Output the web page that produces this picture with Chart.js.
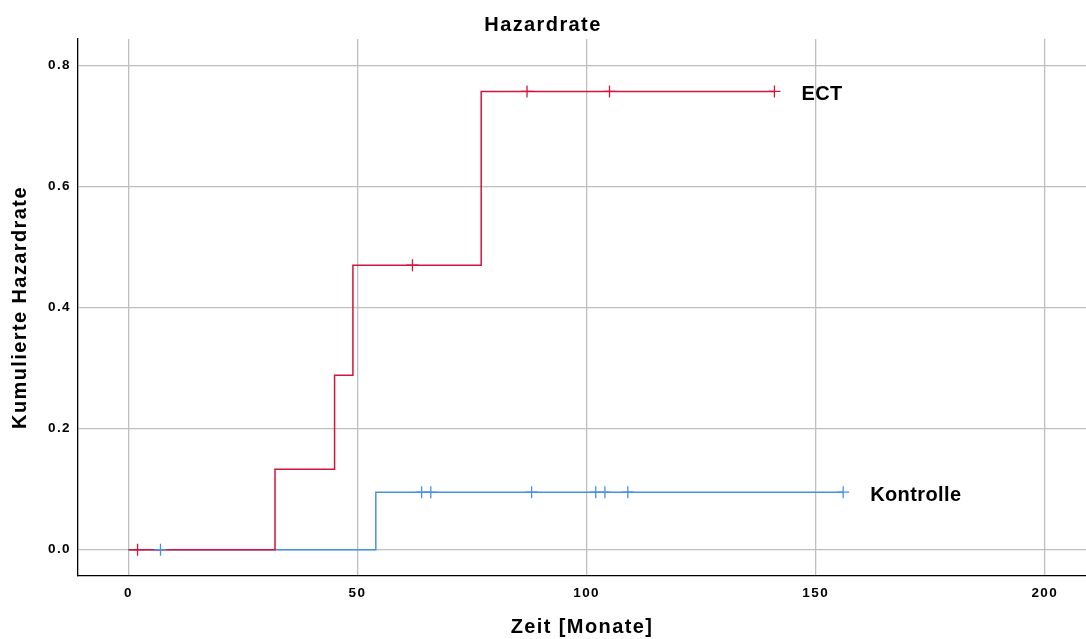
<!DOCTYPE html>
<html>
<head>
<meta charset="utf-8">
<script src="https://cdn.jsdelivr.net/npm/chart.js@4/dist/chart.umd.min.js"></script>
<style>
  html, body { margin: 0; padding: 0; background: #fff; }
  canvas { display: block; }
</style>
</head>
<body>
<canvas id="chart" width="1086" height="639"></canvas>
<script>
// Cumulative hazard (step function) per group: event times in months and hazard after each step
const ectTimes = [0, 32, 45, 49, 77, 141];
const ectHazard = [0, 0.133, 0.288, 0.470, 0.757, 0.757];
const ectCensored = [2, 62, 87, 105, 141];

const ctrlTimes = [0, 54, 156];
const ctrlHazard = [0, 0.095, 0.095];
const ctrlCensored = [7, 64, 66, 88, 102, 104, 109, 156];

const groupNames = ['ECT', 'Kontrolle'];
const xTicks = [0, 50, 100, 150, 200];
const yTicks = [0, 0.2, 0.4, 0.6, 0.8];

const ectColor = '#d3143f';
const ctrlColor = '#4a90e2';
const gridColor = '#bfbfbf';
const fontFamily = '"Liberation Sans", Arial, Helvetica, sans-serif';

// hazard level in effect at time t (right-continuous step)
function hazardAt(times, hazard, t) {
  let h = hazard[0];
  for (let i = 0; i < times.length; i++) {
    if (times[i] <= t) h = hazard[i];
  }
  return h;
}

const toPoints = (xs, ys) => xs.map((x, i) => ({ x: x, y: ys[i] }));
const censorPoints = (cens, times, hazard) => cens.map(t => ({ x: t, y: hazardAt(times, hazard, t) }));

// SPSS-like tracking for all chart text
const tracking = {
  id: 'tracking',
  beforeLayout(chart) { chart.ctx.letterSpacing = '1.4px'; },
  beforeDraw(chart) { chart.ctx.letterSpacing = '1.4px'; }
};

// group names written to the right of each curve's end
const endLabels = {
  id: 'endLabels',
  afterDatasetsDraw(chart) {
    const ctx = chart.ctx;
    const xs = chart.scales.x, ys = chart.scales.y;
    const ends = [
      { name: groupNames[0], t: ectTimes[ectTimes.length - 1], h: ectHazard[ectHazard.length - 1] },
      { name: groupNames[1], t: ctrlTimes[ctrlTimes.length - 1], h: ctrlHazard[ctrlHazard.length - 1] }
    ];
    ctx.save();
    ctx.letterSpacing = '0.4px';
    ctx.font = 'bold 20px ' + fontFamily;
    ctx.fillStyle = '#000';
    ctx.textAlign = 'left';
    ctx.textBaseline = 'middle';
    ends.forEach(e => {
      ctx.fillText(e.name, xs.getPixelForValue(e.t) + 27, ys.getPixelForValue(e.h) + 3);
    });
    ctx.restore();
  }
};

new Chart(document.getElementById('chart'), {
  type: 'scatter',
  data: {
    datasets: [
      {
        label: 'ECT zensiert',
        data: censorPoints(ectCensored, ectTimes, ectHazard),
        showLine: false,
        pointStyle: 'cross',
        pointRadius: 6,
        pointBorderWidth: 1.3,
        borderColor: ectColor,
        pointBorderColor: ectColor
      },
      {
        label: 'Kontrolle zensiert',
        data: censorPoints(ctrlCensored, ctrlTimes, ctrlHazard),
        showLine: false,
        pointStyle: 'cross',
        pointRadius: 6,
        pointBorderWidth: 1.3,
        borderColor: ctrlColor,
        pointBorderColor: ctrlColor
      },
      {
        label: groupNames[0],
        data: toPoints(ectTimes, ectHazard),
        showLine: true,
        stepped: 'before',
        borderColor: ectColor,
        borderWidth: 1.5,
        pointRadius: 0,
        fill: false
      },
      {
        label: groupNames[1],
        data: toPoints(ctrlTimes, ctrlHazard),
        showLine: true,
        stepped: 'before',
        borderColor: ctrlColor,
        borderWidth: 1.5,
        pointRadius: 0,
        fill: false
      }
    ]
  },
  options: {
    responsive: false,
    animation: false,
    devicePixelRatio: 1,
    layout: { padding: 0, autoPadding: false },
    plugins: {
      legend: { display: false },
      tooltip: { enabled: false },
      title: {
        display: true,
        text: 'Hazardrate',
        color: '#000',
        font: { family: fontFamily, size: 20, weight: 'bold', lineHeight: 1.2 },
        padding: { top: 13, bottom: 2 }
      }
    },
    scales: {
      x: {
        type: 'linear',
        min: -11,
        max: 209,
        afterBuildTicks: s => { s.ticks = xTicks.map(v => ({ value: v })); },
        afterFit: s => { s.height = 63; },
        grid: { color: gridColor, lineWidth: 1.3, drawTicks: false },
        border: { display: true, color: '#000', width: 1.3 },
        ticks: {
          padding: 9,
          color: '#000',
          maxRotation: 0,
          font: { family: fontFamily, size: 13.5, weight: 'bold' },
          callback: v => String(v)
        },
        title: {
          display: true,
          text: 'Zeit [Monate]',
          color: '#000',
          font: { family: fontFamily, size: 20, weight: 'bold', lineHeight: 1.2 },
          padding: { top: 0, bottom: 0 }
        }
      },
      y: {
        type: 'linear',
        min: -0.0435,
        max: 0.8436,
        afterBuildTicks: s => { s.ticks = yTicks.map(v => ({ value: v })); },
        afterFit: s => { s.width = 78; },
        grid: { color: gridColor, lineWidth: 1.3, drawTicks: false },
        border: { display: true, color: '#000', width: 1.3 },
        ticks: {
          padding: 7,
          color: '#000',
          font: { family: fontFamily, size: 13.5, weight: 'bold' },
          callback: v => v.toFixed(1)
        },
        title: {
          display: true,
          text: 'Kumulierte Hazardrate',
          color: '#000',
          font: { family: fontFamily, size: 20, weight: 'bold', lineHeight: 1.2 },
          padding: { top: 8, bottom: 0 }
        }
      }
    }
  },
  plugins: [tracking, endLabels]
});
</script>
</body>
</html>
